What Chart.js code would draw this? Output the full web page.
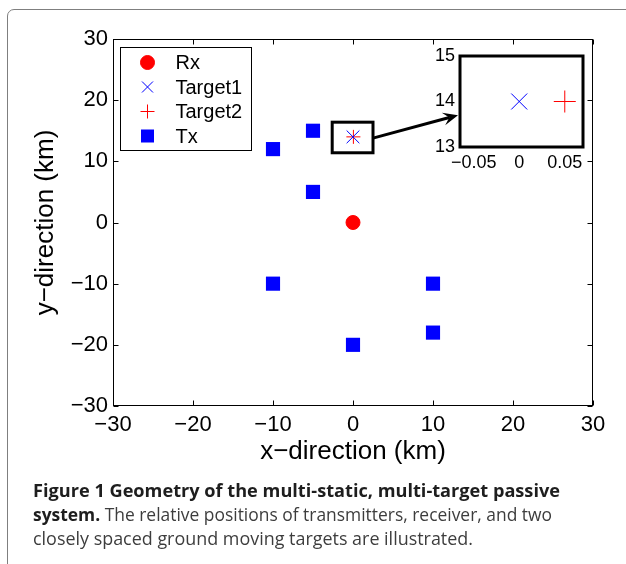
<!DOCTYPE html>
<html><head><meta charset="utf-8">
<script src="https://cdn.jsdelivr.net/npm/chart.js@4.4.1/dist/chart.umd.min.js"></script>
<style>
html,body{margin:0;padding:0;background:#fff;width:626px;height:564px;overflow:hidden;position:relative}
#frame{position:absolute;left:7px;top:9px;width:700px;height:700px;border:1.5px solid #7f7f7f;border-top-left-radius:7px;box-sizing:border-box}
canvas{position:absolute;left:0;top:0}
#inset{pointer-events:none}
#caption{position:absolute;left:33px;top:478px;font-family:"Open Sans",sans-serif;font-size:18.5px;line-height:24px;color:#3d3d3d;white-space:nowrap}
#caption b{color:#1e1e1e;font-weight:700}
#caption span{display:inline-block;transform-origin:0 0}
</style></head><body>
<div id="frame"></div>
<canvas id="main" width="626" height="470"></canvas>
<canvas id="inset" width="626" height="470"></canvas>
<div id="caption"><div><span class="capline" data-w="527"><b>Figure 1 Geometry of the multi-static, multi-target passive</b></span></div><div><span class="capline" data-w="519"><b>system.</b> The relative positions of transmitters, receiver, and two</span></div><div><span class="capline" data-w="440">closely spaced ground moving targets are illustrated.</span></div></div>
<script>
// ---- data ----
const seriesLabels = ['Rx', 'Target1', 'Target2', 'Tx'];
const rxX = [0];
const rxY = [0];
const target1X = [0];
const target1Y = [14];
const target2X = [0.05];
const target2Y = [14];
const txX = [-10, -5, -5, -10, 10, 10, 0];
const txY = [12, 15, 5, -10, -10, -18, -20];
const axisTickValues = [-30, -20, -10, 0, 10, 20, 30];
const insetXTickValues = [-0.05, 0, 0.05];
const insetYTickValues = [13, 14, 15];
const mainRange = [-30, 30];
const insetXRange = [-0.065, 0.07];
const insetYRange = [13, 15];
// zoom window around the targets (main-plot km) and arrow anchors
const zoomBoxX = [-2.6, 2.5];
const zoomBoxY = [11.4, 16.4];
const arrowStart = [2.5, 13.8];
const arrowEndY = 13.7;

const FONT = '"Liberation Sans", Arial, Helvetica, sans-serif';
const pts = (xs, ys) => xs.map((x, i) => ({x: x, y: ys[i]}));
const fmt = v => String(v).replace('-', '\u2212');

function drawMarker(ctx, style, x, y, r, color) {
  ctx.save();
  ctx.fillStyle = color; ctx.strokeStyle = color; ctx.lineWidth = 1;
  ctx.beginPath();
  if (style === 'circle') { ctx.arc(x, y, r, 0, Math.PI * 2); ctx.fill(); ctx.stroke(); }
  else if (style === 'rect') { const s = r * Math.SQRT1_2; ctx.rect(x - s, y - s, 2 * s, 2 * s); ctx.fill(); }
  else if (style === 'cross') { ctx.moveTo(x - r, y); ctx.lineTo(x + r, y); ctx.moveTo(x, y - r); ctx.lineTo(x, y + r); ctx.stroke(); }
  else if (style === 'crossRot') { const s = r * Math.SQRT1_2; ctx.moveTo(x - s, y - s); ctx.lineTo(x + s, y + s); ctx.moveTo(x - s, y + s); ctx.lineTo(x + s, y - s); ctx.stroke(); }
  ctx.restore();
}

const mainDecor = {
  id: 'mainDecor',
  afterDatasetsDraw(chart) {
    const ctx = chart.ctx, a = chart.chartArea, xs = chart.scales.x, ys = chart.scales.y;
    ctx.save();
    // axes box + inward ticks
    ctx.strokeStyle = '#000'; ctx.lineWidth = 1;
    const L = Math.round(a.left) + 0.5, R = Math.round(a.right) - 0.5, T = Math.round(a.top) + 0.5, B = Math.round(a.bottom) - 0.5;
    ctx.strokeRect(L, T, R - L, B - T);
    ctx.beginPath();
    axisTickValues.forEach(v => {
      const px = Math.round(xs.getPixelForValue(v)) + 0.5;
      ctx.moveTo(px, B); ctx.lineTo(px, B - 5); ctx.moveTo(px, T); ctx.lineTo(px, T + 5);
      const py = Math.round(ys.getPixelForValue(v)) + 0.5;
      ctx.moveTo(L, py); ctx.lineTo(L + 5, py); ctx.moveTo(R, py); ctx.lineTo(R - 5, py);
    });
    ctx.stroke();
    // zoom window
    const zx0 = xs.getPixelForValue(zoomBoxX[0]), zx1 = xs.getPixelForValue(zoomBoxX[1]);
    const zy0 = ys.getPixelForValue(zoomBoxY[1]), zy1 = ys.getPixelForValue(zoomBoxY[0]);
    ctx.lineWidth = 3;
    ctx.strokeRect(zx0, zy0, zx1 - zx0, zy1 - zy0);
    // legend
    const lx = Math.round(a.left) + 7.5, ly = Math.round(a.top) + 8.5, lw = 131, lh = 103;
    ctx.fillStyle = '#fff'; ctx.fillRect(lx, ly, lw, lh);
    ctx.lineWidth = 1; ctx.strokeStyle = '#000'; ctx.strokeRect(lx, ly, lw, lh);
    const legendSizes = [7, 7.8, 7, 9.2];
    chart.data.datasets.forEach((ds, i) => {
      const cy = ly + 15 + i * 24.5;
      drawMarker(ctx, ds.pointStyle, lx + 27, cy, legendSizes[i], ds.pointBorderColor);
      ctx.fillStyle = '#000'; ctx.font = '20px ' + FONT; ctx.textBaseline = 'middle'; ctx.textAlign = 'left';
      ctx.fillText(ds.label, lx + 55, cy + 1);
    });
    ctx.restore();
  }
};

const mainChart = new Chart(document.getElementById('main'), {
  type: 'scatter',
  data: {
    datasets: [
      {label: seriesLabels[0], data: pts(rxX, rxY), pointStyle: 'circle', pointRadius: 7, pointHoverRadius: 7, pointBackgroundColor: '#ff0000', pointBorderColor: '#ff0000', pointBorderWidth: 1},
      {label: seriesLabels[1], data: pts(target1X, target1Y), pointStyle: 'crossRot', pointRadius: 9, pointHoverRadius: 9, pointBackgroundColor: '#0000ff', pointBorderColor: '#0000ff', pointBorderWidth: 1},
      {label: seriesLabels[2], data: pts(target2X, target2Y), pointStyle: 'cross', pointRadius: 7, pointHoverRadius: 7, pointBackgroundColor: '#ff0000', pointBorderColor: '#ff0000', pointBorderWidth: 1},
      {label: seriesLabels[3], data: pts(txX, txY), pointStyle: 'rect', pointRadius: 10, pointHoverRadius: 10, pointBackgroundColor: '#0000ff', pointBorderColor: '#0000ff', pointBorderWidth: 0}
    ]
  },
  options: {
    responsive: false, animation: false, devicePixelRatio: 1,
    layout: {padding: {left: 28, top: 39, right: 33, bottom: 0}},
    plugins: {legend: {display: false}, tooltip: {enabled: false}},
    scales: {
      x: {
        type: 'linear', min: mainRange[0], max: mainRange[1],
        afterBuildTicks: s => { s.ticks = axisTickValues.map(v => ({value: v})); },
        afterFit: s => { s.height = 64; },
        grid: {display: false, drawTicks: false}, border: {display: false},
        ticks: {padding: 6, font: {family: FONT, size: 22}, color: '#000', callback: fmt, maxRotation: 0, autoSkip: false},
        title: {display: true, text: 'x\u2212direction (km)', font: {family: FONT, size: 26}, color: '#000', padding: {top: 0, bottom: 3}}
      },
      y: {
        type: 'linear', min: mainRange[0], max: mainRange[1],
        afterBuildTicks: s => { s.ticks = axisTickValues.map(v => ({value: v})); },
        afterFit: s => { s.width = 85; },
        grid: {display: false, drawTicks: false}, border: {display: false},
        ticks: {padding: 5, font: {family: FONT, size: 22}, color: '#000', callback: fmt, autoSkip: false},
        title: {display: true, text: 'y\u2212direction (km)', font: {family: FONT, size: 26}, color: '#000', padding: {top: 2, bottom: 0}}
      }
    }
  },
  plugins: [mainDecor]
});

const insetDecor = {
  id: 'insetDecor',
  beforeDatasetsDraw(chart) {
    const ctx = chart.ctx, a = chart.chartArea;
    ctx.save(); ctx.fillStyle = '#fff'; ctx.fillRect(a.left, a.top, a.right - a.left, a.bottom - a.top); ctx.restore();
  },
  afterDatasetsDraw(chart) {
    const ctx = chart.ctx, a = chart.chartArea;
    ctx.save();
    ctx.strokeStyle = '#000'; ctx.lineWidth = 3;
    ctx.strokeRect(a.left, a.top, a.right - a.left, a.bottom - a.top);
    // arrow from zoom window to inset
    const sx = mainChart.scales.x.getPixelForValue(arrowStart[0]);
    const sy = mainChart.scales.y.getPixelForValue(arrowStart[1]);
    const ex = a.left - 2, ey = chart.scales.y.getPixelForValue(arrowEndY);
    const dx = ex - sx, dy = ey - sy, len = Math.hypot(dx, dy), ux = dx / len, uy = dy / len, nx = -uy, ny = ux;
    const HL = 15, HW = 6.5, notch = 9;
    ctx.beginPath(); ctx.moveTo(sx, sy); ctx.lineTo(ex - ux * notch, ey - uy * notch); ctx.stroke();
    ctx.fillStyle = '#000';
    ctx.beginPath();
    ctx.moveTo(ex, ey);
    ctx.lineTo(ex - ux * HL + nx * HW, ey - uy * HL + ny * HW);
    ctx.lineTo(ex - ux * notch, ey - uy * notch);
    ctx.lineTo(ex - ux * HL - nx * HW, ey - uy * HL - ny * HW);
    ctx.closePath(); ctx.fill();
    ctx.restore();
  }
};

const insetChart = new Chart(document.getElementById('inset'), {
  type: 'scatter',
  data: {
    datasets: [
      {label: seriesLabels[1], data: pts(target1X, target1Y), pointStyle: 'crossRot', pointRadius: 11.3, pointHoverRadius: 11.3, pointBorderColor: '#0000ff', pointBackgroundColor: '#0000ff', pointBorderWidth: 1},
      {label: seriesLabels[2], data: pts(target2X, target2Y), pointStyle: 'cross', pointRadius: 11, pointHoverRadius: 11, pointBorderColor: '#ff0000', pointBackgroundColor: '#ff0000', pointBorderWidth: 1}
    ]
  },
  options: {
    responsive: false, animation: false, devicePixelRatio: 1, events: [],
    layout: {padding: {left: 420, top: 56, right: 43, bottom: 293}},
    plugins: {legend: {display: false}, tooltip: {enabled: false}},
    scales: {
      x: {
        type: 'linear', min: insetXRange[0], max: insetXRange[1],
        afterBuildTicks: s => { s.ticks = insetXTickValues.map(v => ({value: v})); },
        afterFit: s => { s.height = 30; },
        grid: {display: false, drawTicks: false}, border: {display: false},
        ticks: {padding: 5, font: {family: FONT, size: 18}, color: '#000', callback: fmt, maxRotation: 0, autoSkip: false}
      },
      y: {
        type: 'linear', min: insetYRange[0], max: insetYRange[1],
        afterBuildTicks: s => { s.ticks = insetYTickValues.map(v => ({value: v})); },
        afterFit: s => { s.width = 40; },
        grid: {display: false, drawTicks: false}, border: {display: false},
        ticks: {padding: 5, font: {family: FONT, size: 18}, color: '#000', callback: fmt, autoSkip: false}
      }
    }
  },
  plugins: [insetDecor]
});

function fitCaption() {
  document.querySelectorAll('.capline').forEach(el => {
    el.style.transform = 'none';
    const w = el.getBoundingClientRect().width;
    if (w > 0) el.style.transform = 'scaleX(' + (parseFloat(el.dataset.w) / w) + ')';
  });
}
fitCaption();
if (document.fonts && document.fonts.ready) document.fonts.ready.then(fitCaption);
</script>
</body></html>
